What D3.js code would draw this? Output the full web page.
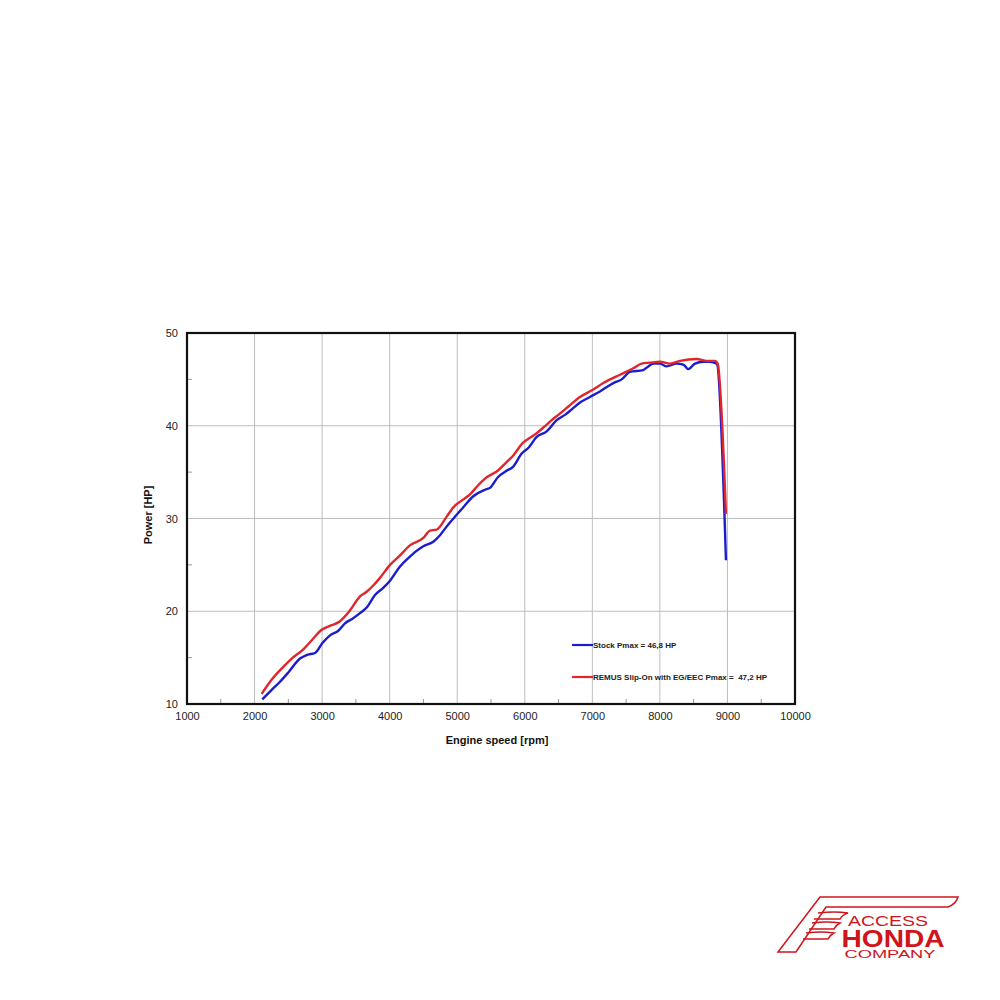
<!DOCTYPE html>
<html><head><meta charset="utf-8">
<script src="https://cdn.jsdelivr.net/npm/d3@7"></script>
<style>body{margin:0;background:#fff}svg{display:block}</style>
</head><body>
<script>
const stockRpm = [2115,2250,2377,2500,2673,2780,2895,3008,3117,3240,3339,3450,3561,3660,3783,3900,4005,4150,4300,4498,4646,4745,4850,4992,5100,5238,5411,5485,5608,5720,5830,5954,6052,6176,6324,6472,6600,6700,6817,6965,7113,7310,7434,7557,7754,7828,7902,8000,8100,8248,8346,8420,8519,8642,8741,8840,8978];
const stockHp = [10.5,11.5,12.4,13.4,14.9,15.3,15.5,16.6,17.4,17.9,18.7,19.2,19.8,20.4,21.75,22.5,23.3,24.8,25.9,27.0,27.5,28.2,29.2,30.4,31.3,32.4,33.1,33.3,34.5,35.1,35.6,37.0,37.6,38.8,39.4,40.6,41.2,41.8,42.5,43.1,43.7,44.6,45.0,45.8,46.0,46.4,46.7,46.7,46.4,46.7,46.6,46.1,46.7,46.9,46.9,46.7,25.5];
const remusRpm = [2105,2250,2426,2550,2722,2850,2994,3142,3240,3413,3561,3660,3760,3857,4005,4150,4300,4498,4597,4696,4844,4942,5060,5189,5300,5411,5608,5720,5830,5978,6076,6176,6290,6398,6520,6650,6817,7014,7162,7409,7606,7730,7853,8001,8149,8297,8544,8692,8815,8855,8978];
const remusHp = [11.1,12.6,14.0,14.9,15.9,16.9,18.0,18.5,18.8,20.1,21.6,22.1,22.8,23.6,25.0,26.0,27.1,27.9,28.7,28.8,30.2,31.2,31.9,32.6,33.5,34.3,35.2,36.0,36.8,38.2,38.7,39.2,39.9,40.6,41.3,42.1,43.1,43.9,44.6,45.5,46.2,46.7,46.8,46.9,46.7,47.0,47.2,47.0,47.0,46.7,30.5];
const xTicks = [1000,2000,3000,4000,5000,6000,7000,8000,9000,10000];
const xMinor = [1500,2500,3500,4500,5500,6500,7500,8500,9500];
const yTicks = [10,20,30,40,50];
const yMinor = [15,25,35,45];
const legendLabels = ["Stock Pmax = 46,8 HP","REMUS Slip-On with EG/EEC Pmax =  47,2 HP"];
const colors = ["#1c1ccf","#e0262c"];

const svg = d3.select("body").append("svg").attr("width",1000).attr("height",1000);
const L=187,R=795,T=333,B=704;
const x = d3.scaleLinear().domain([1000,10000]).range([L,R]);
const y = d3.scaleLinear().domain([10,50]).range([B,T]);
const font = "Arial, 'Liberation Sans', sans-serif";

// gridlines
svg.append("g").selectAll("line").data(xTicks.slice(1,-1)).join("line")
  .attr("x1",d=>x(d)).attr("x2",d=>x(d)).attr("y1",T).attr("y2",B)
  .attr("stroke","#bdbdbd").attr("stroke-width",1);
svg.append("g").selectAll("line").data(yTicks.slice(1,-1)).join("line")
  .attr("y1",d=>y(d)).attr("y2",d=>y(d)).attr("x1",L).attr("x2",R)
  .attr("stroke","#bdbdbd").attr("stroke-width",1);
// minor ticks inward
svg.append("g").selectAll("line").data(xMinor).join("line")
  .attr("x1",d=>x(d)).attr("x2",d=>x(d)).attr("y1",B).attr("y2",B-5)
  .attr("stroke","#999").attr("stroke-width",1);
svg.append("g").selectAll("line").data(yMinor).join("line")
  .attr("y1",d=>y(d)).attr("y2",d=>y(d)).attr("x1",L).attr("x2",L+5)
  .attr("stroke","#999").attr("stroke-width",1);

// axes
const xAxis = svg.append("g").attr("transform",`translate(0,${B})`)
  .call(d3.axisBottom(x).tickValues(xTicks).tickFormat(d3.format("d")).tickSize(0).tickPadding(8));
const yAxis = svg.append("g").attr("transform",`translate(${L},0)`)
  .call(d3.axisLeft(y).tickValues(yTicks).tickSize(0).tickPadding(9));
[xAxis,yAxis].forEach(a=>{
  a.select(".domain").remove();
  a.selectAll("text").attr("font-family",font).attr("font-size",11).attr("fill","#222");
});

// frame
svg.append("rect").attr("x",L).attr("y",T).attr("width",R-L).attr("height",B-T)
  .attr("fill","none").attr("stroke","#111").attr("stroke-width",2.2);

// lines
const line = d3.line().x(d=>x(d[0])).y(d=>y(d[1])).curve(d3.curveMonotoneX);
const series = [d3.zip(stockRpm,stockHp), d3.zip(remusRpm,remusHp)];
series.forEach((s,i)=>{
  svg.append("path").datum(s).attr("d",line).attr("fill","none")
    .attr("stroke",colors[i]).attr("stroke-width",2.4).attr("stroke-linejoin","round");
});

// legend
const legY = [645,677];
legendLabels.forEach((t,i)=>{
  svg.append("line").attr("x1",572).attr("x2",593).attr("y1",legY[i]).attr("y2",legY[i])
    .attr("stroke",colors[i]).attr("stroke-width",2.2);
  svg.append("text").attr("x",593).attr("y",legY[i]+3).text(t)
    .attr("font-family",font).attr("font-size",8).attr("font-weight","bold").attr("fill","#222")
    .style("white-space","pre");
});

// axis titles
svg.append("text").attr("x",497).attr("y",744).attr("text-anchor","middle")
  .attr("font-family",font).attr("font-size",11).attr("font-weight","bold").attr("fill","#111")
  .text("Engine speed [rpm]");
svg.append("text").attr("transform","translate(152,515) rotate(-90)").attr("text-anchor","middle")
  .attr("font-family",font).attr("font-size",11).attr("font-weight","bold").attr("fill","#111")
  .text("Power [HP]");

// logo
const lg = svg.append("g").attr("fill","none").attr("stroke","#d0141c").attr("stroke-width",1.5);
lg.append("path").attr("d","M820,897 L958,897 Q956,904 948,907 L838,907 L826,907 L796,952 L778,952 Z");
lg.append("path").attr("d","M818,913 Q835,911 848,913 Q842,915 840,919 L814,919");
lg.append("path").attr("d","M812,923 Q828,921 840,923 Q836,925 834,929 L809,929");
lg.append("path").attr("d","M806,933 Q822,931 834,933 Q830,935 828,939 L803,939");
const lt = svg.append("g").attr("fill","#d0141c").attr("font-family",font).attr("text-anchor","middle");
lt.append("text").attr("x",888).attr("y",926).attr("font-size",14.5).attr("textLength",80).attr("lengthAdjust","spacingAndGlyphs").text("ACCESS");
lt.append("text").attr("x",893).attr("y",947).attr("font-size",24).attr("font-weight","bold").attr("textLength",103).attr("lengthAdjust","spacingAndGlyphs").text("HONDA");
lt.append("text").attr("x",890).attr("y",957.5).attr("font-size",10.5).attr("textLength",91).attr("lengthAdjust","spacingAndGlyphs").text("COMPANY");
</script>
</body></html>
